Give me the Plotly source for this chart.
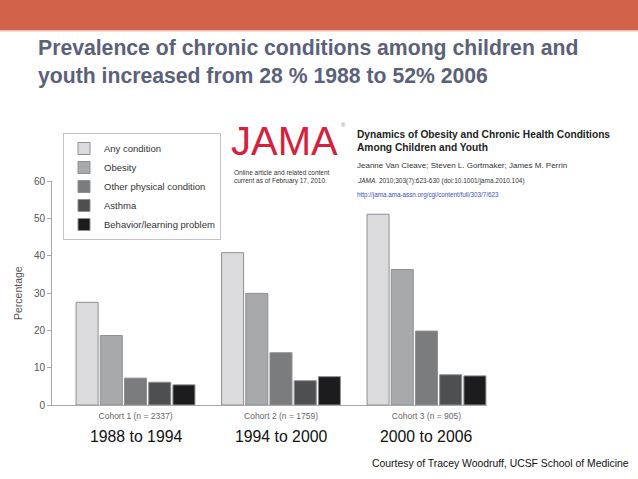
import plotly.graph_objects as go

# ---- data ----
cohorts = ["Cohort 1 (n = 2337)", "Cohort 2 (n = 1759)", "Cohort 3 (n = 905)"]
periods = ["1988 to 1994", "1994 to 2000", "2000 to 2006"]
series_names = ["Any condition", "Obesity", "Other physical condition",
                "Asthma", "Behavior/learning problem"]
any_condition = [27.5, 40.8, 51.1]
obesity = [18.6, 29.9, 36.3]
other_physical = [7.2, 14.0, 19.8]
asthma = [6.1, 6.5, 8.1]
behavior = [5.4, 7.6, 7.8]
y_ticks = [0, 10, 20, 30, 40, 50, 60]

series_values = [any_condition, obesity, other_physical, asthma, behavior]
colors = ["#dcdcde", "#a8a9ab", "#7b7c7e", "#4e4f51", "#1c1c1e"]

# ---- geometry helpers (pixel -> paper) ----
W_FIG, H_FIG = 638, 479
L, R, T, B = 52, 151, 181, 74
PW = W_FIG - L - R
PH = H_FIG - T - B


def px(x):
    return (x - L) / PW


def py(y):
    return (H_FIG - B - y) / PH


FONT = "Liberation Sans, Arial, Helvetica, sans-serif"
xs = list(range(len(cohorts)))

fig = go.Figure()
for name, vals, col in zip(series_names, series_values, colors):
    fig.add_trace(go.Bar(
        x=xs, y=vals, name=name,
        marker=dict(color=col, line=dict(color="#8f8f92", width=1)),
    ))

annotations = []
# slide title
annotations.append(dict(
    text="Prevalence of chronic conditions among children and<br>youth increased from 28 % 1988 to 52% 2006",
    xref="paper", yref="paper", x=px(36), y=py(62), xanchor="left", yanchor="middle",
    align="left", showarrow=False,
    font=dict(family=FONT, size=21.2, color="#5b6179", weight="bold")))
# JAMA logo
annotations.append(dict(
    text="JAMA", xref="paper", yref="paper", x=px(230), y=py(141),
    xanchor="left", yanchor="middle", showarrow=False, borderpad=0,
    font=dict(family=FONT, size=40, color="#d4223e")))
annotations.append(dict(
    text="®", xref="paper", yref="paper", x=px(340), y=py(125),
    xanchor="left", yanchor="middle", showarrow=False, borderpad=0,
    font=dict(family=FONT, size=6, color="#888")))
annotations.append(dict(
    text="Online article and related content<br>current as of February 17, 2010.",
    xref="paper", yref="paper", x=px(232), y=py(177), xanchor="left", yanchor="middle",
    align="left", showarrow=False,
    font=dict(family=FONT, size=6.5, color="#333")))
# article header
annotations.append(dict(
    text="Dynamics of Obesity and Chronic Health Conditions<br>Among Children and Youth",
    xref="paper", yref="paper", x=px(355), y=py(141), xanchor="left", yanchor="middle",
    align="left", showarrow=False,
    font=dict(family=FONT, size=10.2, color="#222", weight="bold")))
annotations.append(dict(
    text="Jeanne Van Cleave; Steven L. Gortmaker; James M. Perrin",
    xref="paper", yref="paper", x=px(355), y=py(166), xanchor="left", yanchor="middle",
    showarrow=False, font=dict(family=FONT, size=8, color="#333")))
annotations.append(dict(
    text="<i>JAMA.</i> 2010;303(7):623-630 (doi:10.1001/jama.2010.104)",
    xref="paper", yref="paper", x=px(355), y=py(181), xanchor="left", yanchor="middle",
    showarrow=False, font=dict(family=FONT, size=6.5, color="#333")))
annotations.append(dict(
    text="http://jama.ama-assn.org/cgi/content/full/303/7/623",
    xref="paper", yref="paper", x=px(355), y=py(195), xanchor="left", yanchor="middle",
    showarrow=False, font=dict(family=FONT, size=6.3, color="#3b4fb8")))
# y axis title
annotations.append(dict(
    text="Percentage", xref="paper", yref="paper", x=px(18), y=py(293),
    xanchor="center", yanchor="middle", textangle=-90, showarrow=False,
    font=dict(family=FONT, size=10.5, color="#555")))
# period labels
for i, p in zip(xs, periods):
    annotations.append(dict(
        text=p, xref="x", yref="paper", x=i, y=py(436),
        xanchor="center", yanchor="middle", showarrow=False,
        font=dict(family=FONT, size=15.8, color="#111")))
# courtesy
annotations.append(dict(
    text="Courtesy of Tracey Woodruff, UCSF School of Medicine",
    xref="paper", yref="paper", x=px(631), y=py(463), xanchor="right", yanchor="middle",
    showarrow=False, font=dict(family=FONT, size=10.4, color="#111")))

shapes = [
    dict(type="rect", xref="paper", yref="paper", x0=px(0), x1=px(W_FIG), y0=py(30), y1=py(0),
         fillcolor="#d1634b", line=dict(width=0), layer="below"),
    dict(type="rect", xref="paper", yref="paper", x0=px(0), x1=px(W_FIG), y0=py(31.5), y1=py(30),
         fillcolor="#eebcb0", line=dict(width=0), layer="below"),
]

fig.update_layout(
    width=W_FIG, height=H_FIG,
    margin=dict(l=L, r=R, t=T, b=B, pad=0),
    paper_bgcolor="white", plot_bgcolor="white",
    barmode="group", bargap=0.168, bargroupgap=0.09,
    font=dict(family=FONT, color="#444"),
    showlegend=True,
    legend=dict(x=px(63), y=py(133), xanchor="left", yanchor="top",
                bordercolor="#c4c4c4", borderwidth=1, bgcolor="white",
                font=dict(family=FONT, size=9.5, color="#333"),
                itemwidth=30, traceorder="normal", tracegroupgap=0),
    annotations=annotations,
    shapes=shapes,
)
fig.update_xaxes(range=[-0.574, 2.416], tickmode="array", tickvals=xs, ticktext=cohorts,
                 showline=True, linecolor="#a8a8a8", linewidth=1, ticks="",
                 showgrid=False, zeroline=False, ticklabelstandoff=3,
                 tickfont=dict(family=FONT, size=8.5, color="#666"))
fig.update_yaxes(range=[0, 60], tickmode="array", tickvals=y_ticks,
                 showline=True, linecolor="#a8a8a8", linewidth=1, ticks="outside",
                 ticklen=4, tickcolor="#a8a8a8", showgrid=False, zeroline=False,
                 tickfont=dict(family=FONT, size=10, color="#555"))

fig.write_html("out.html", config={"displayModeBar": False},
               post_script="document.body.style.margin='0';document.body.style.overflow='hidden';")
